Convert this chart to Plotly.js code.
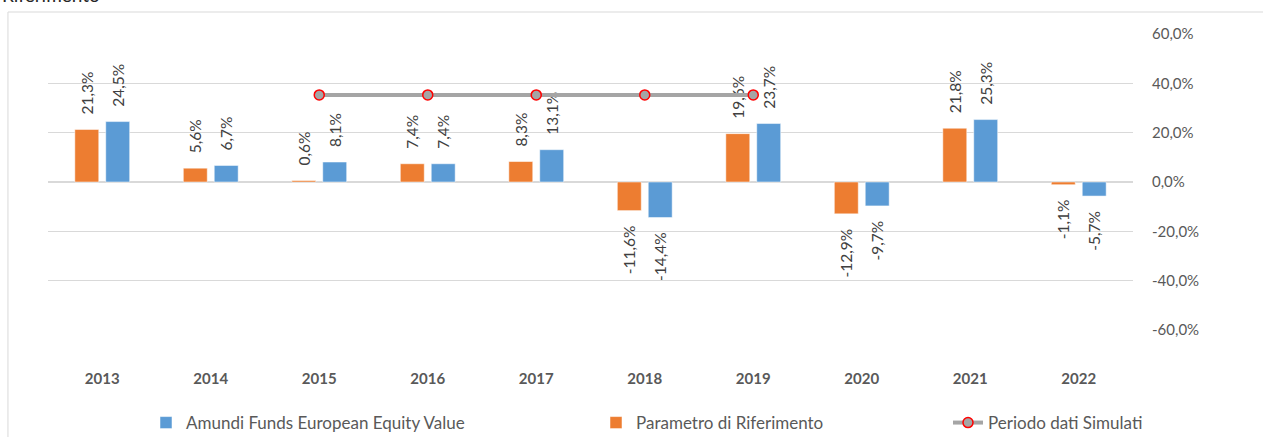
<!DOCTYPE html>
<html><head><meta charset="utf-8">
<script src="https://cdn.plot.ly/plotly-3.0.1.min.js"></script>
<style>html,body{margin:0;padding:0;background:#fff}#c{width:1263px;height:437px}</style>
</head><body><div id="c"></div>
<script>
const years = ['2013','2014','2015','2016','2017','2018','2019','2020','2021','2022'];
const parametro = [21.3, 5.6, 0.6, 7.4, 8.3, -11.6, 19.6, -12.9, 21.8, -1.1];
const amundi = [24.5, 6.7, 8.1, 7.4, 13.1, -14.4, 23.7, -9.7, 25.3, -5.7];
const simYears = ['2015','2016','2017','2018','2019'];
const simLevel = [35.3, 35.3, 35.3, 35.3, 35.3];
const yTicks = [-60, -40, -20, 0, 20, 40, 60];
const yTickText = ['-60,0%','-40,0%','-20,0%','0,0%','20,0%','40,0%','60,0%'];

const NB = '\u00A0\u00A0\u00A0';
function lab(v){ const s = v.toFixed(1).replace('.', ',') + '%'; return v >= 0 ? NB + s : s + NB; }

const F = 'Lato, "Open Sans", sans-serif';
const labelFont = {family: F, size: 15.5, color: '#404040'};

const traces = [
  {type:'bar', name:'Parametro di Riferimento', x:years, y:parametro,
   marker:{color:'#ED7D31', line:{color:'rgba(255,255,255,0.5)', width:1}},
   text:parametro.map(lab), textposition:'outside', textangle:-90, textfont:labelFont,
   constraintext:'none', cliponaxis:false, hoverinfo:'skip', legend:'legend2'},
  {type:'bar', name:'Amundi Funds European Equity Value', x:years, y:amundi,
   marker:{color:'#5B9BD5', line:{color:'rgba(255,255,255,0.5)', width:1}},
   text:amundi.map(lab), textposition:'outside', textangle:-90, textfont:labelFont,
   constraintext:'none', cliponaxis:false, hoverinfo:'skip', legend:'legend'},
  {type:'scatter', mode:'lines+markers', name:'Periodo dati Simulati', x:simYears, y:simLevel,
   line:{color:'#A5A5A5', width:4}, marker:{color:'#A5A5A5', size:10, line:{color:'#FF0000', width:1.5}},
   cliponaxis:false, legend:'legend3'}
];

const legFont = {family: F, size: 17, color:'#595959'};
const legBase = {orientation:'h', xref:'container', yref:'container', y:0.032, yanchor:'middle', xanchor:'left', font:legFont, bgcolor:'rgba(0,0,0,0)'};

const layout = {
  width:1263, height:437,
  margin:{l:48, r:130, t:34, b:107, autoexpand:false},
  paper_bgcolor:'#fff', plot_bgcolor:'#fff',
  font:{family:F, color:'#595959'},
  barmode:'group', bargap:0.43, bargroupgap:0.226,
  showlegend:true,
  legend: Object.assign({}, legBase, {x:0.1156}),
  legend2: Object.assign({}, legBase, {x:0.4719}),
  legend3: Object.assign({}, legBase, {x:0.7506}),
  xaxis:{type:'category', showgrid:false, zeroline:false, showline:false, ticks:'', automargin:false,
    tickfont:{family:F, size:15, color:'#595959', weight:'bold'}, ticklabelstandoff:38, fixedrange:true},
  yaxis:{range:[-60,60], side:'right', tickvals:yTicks, ticktext:yTickText, automargin:false,
    showgrid:true, gridcolor:'#D9D9D9', gridwidth:1, zeroline:true, zerolinecolor:'#D9D9D9', zerolinewidth:1.5,
    showline:false, ticks:'', tickfont:{family:F, size:15, color:'#595959'}, ticklabelstandoff:18, fixedrange:true},
  shapes:[{type:'rect', xref:'paper', yref:'paper', x0:-0.0369, x1:1.3, y0:-0.5, y1:1.0743,
    line:{color:'#D9D9D9', width:1}, fillcolor:'rgba(0,0,0,0)', layer:'below'}],
  annotations:[{text:'Riferimento', xref:'paper', yref:'paper', x:-0.0442, y:1.088, xanchor:'left', yanchor:'bottom',
    showarrow:false, font:{family:F, size:19, color:'#262626'}}]
};

Plotly.newPlot('c', traces, layout, {displayModeBar:false, staticPlot:true});
</script></body></html>
